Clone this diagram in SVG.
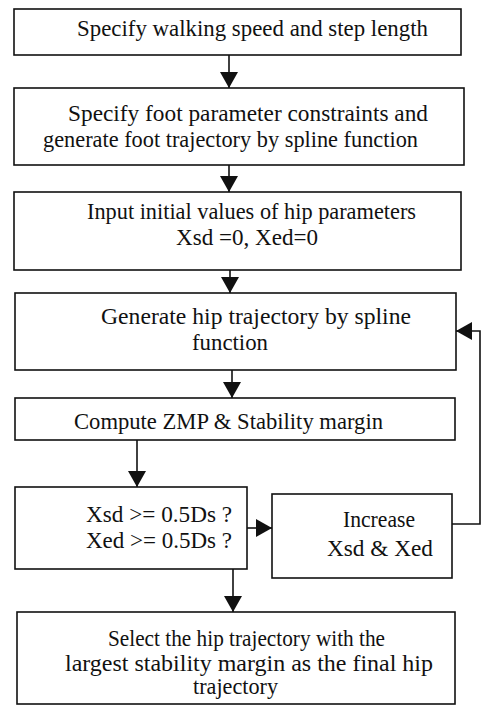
<svg xmlns="http://www.w3.org/2000/svg" width="485" height="714" viewBox="0 0 485 714">
<style>
.box{fill:#fff;stroke:#111;stroke-width:1.6}
.t{font-family:"Liberation Serif","Times New Roman",serif;font-size:22.5px;fill:#111}
.c{fill:none;stroke:#111;stroke-width:1.6}
</style>
<defs>
<marker id="ah" viewBox="0 0 16 18" refX="16" refY="9" markerWidth="16" markerHeight="18" markerUnits="userSpaceOnUse" orient="auto">
<path d="M0,0 L16,9 L0,18 Z" fill="#111"/>
</marker>
</defs>
<g id="connectors">
<line class="c" x1="229" y1="55" x2="229" y2="88" marker-end="url(#ah)"/>
<line class="c" x1="229" y1="165" x2="229" y2="192" marker-end="url(#ah)"/>
<line class="c" x1="230" y1="270" x2="230" y2="293" marker-end="url(#ah)"/>
<line class="c" x1="232" y1="370" x2="232" y2="398" marker-end="url(#ah)"/>
<line class="c" x1="137" y1="440" x2="137" y2="487" marker-end="url(#ah)"/>
<line class="c" x1="247" y1="528" x2="272" y2="528" marker-end="url(#ah)"/>
<polyline class="c" points="452,524 480,524 480,331 456,331" marker-end="url(#ah)"/>
<line class="c" x1="233" y1="569" x2="233" y2="612" marker-end="url(#ah)"/>
</g>
<g id="n1">
<rect class="box" x="14" y="9" width="447" height="46"/>
<text class="t" x="77" y="36" textLength="351" lengthAdjust="spacingAndGlyphs">Specify walking speed and step length</text>
</g>
<g id="n2">
<rect class="box" x="14" y="88" width="450" height="77"/>
<text class="t" x="68" y="121" textLength="360" lengthAdjust="spacingAndGlyphs">Specify foot parameter constraints and</text>
<text class="t" x="43" y="147" textLength="375" lengthAdjust="spacingAndGlyphs">generate foot trajectory by spline function</text>
</g>
<g id="n3">
<rect class="box" x="14" y="192" width="447" height="78"/>
<text class="t" x="87" y="219" textLength="329" lengthAdjust="spacingAndGlyphs">Input initial values of hip parameters</text>
<text class="t" x="176" y="245" textLength="142" lengthAdjust="spacingAndGlyphs">Xsd =0, Xed=0</text>
</g>
<g id="n4">
<rect class="box" x="15" y="293" width="441" height="77"/>
<text class="t" x="101" y="324" textLength="310" lengthAdjust="spacingAndGlyphs">Generate hip trajectory by spline</text>
<text class="t" x="192" y="350" textLength="76" lengthAdjust="spacingAndGlyphs">function</text>
</g>
<g id="n5">
<rect class="box" x="15" y="398" width="440" height="42"/>
<text class="t" x="74" y="429" textLength="309" lengthAdjust="spacingAndGlyphs">Compute ZMP &amp; Stability margin</text>
</g>
<g id="n6">
<rect class="box" x="15" y="487" width="232" height="82"/>
<text class="t" x="86" y="522" textLength="146" lengthAdjust="spacingAndGlyphs">Xsd &gt;= 0.5Ds ?</text>
<text class="t" x="86" y="548" textLength="146" lengthAdjust="spacingAndGlyphs">Xed &gt;= 0.5Ds ?</text>
</g>
<g id="n7">
<rect class="box" x="272" y="494" width="180" height="84"/>
<text class="t" x="343" y="527" textLength="72" lengthAdjust="spacingAndGlyphs">Increase</text>
<text class="t" x="327" y="556" textLength="106" lengthAdjust="spacingAndGlyphs">Xsd &amp; Xed</text>
</g>
<g id="n8">
<rect class="box" x="17" y="612" width="438" height="92"/>
<text class="t" x="108" y="646" textLength="277" lengthAdjust="spacingAndGlyphs">Select the hip trajectory with the</text>
<text class="t" x="65" y="671" textLength="368" lengthAdjust="spacingAndGlyphs">largest stability margin as the final hip</text>
<text class="t" x="193" y="694" textLength="85" lengthAdjust="spacingAndGlyphs">trajectory</text>
</g>
</svg>
